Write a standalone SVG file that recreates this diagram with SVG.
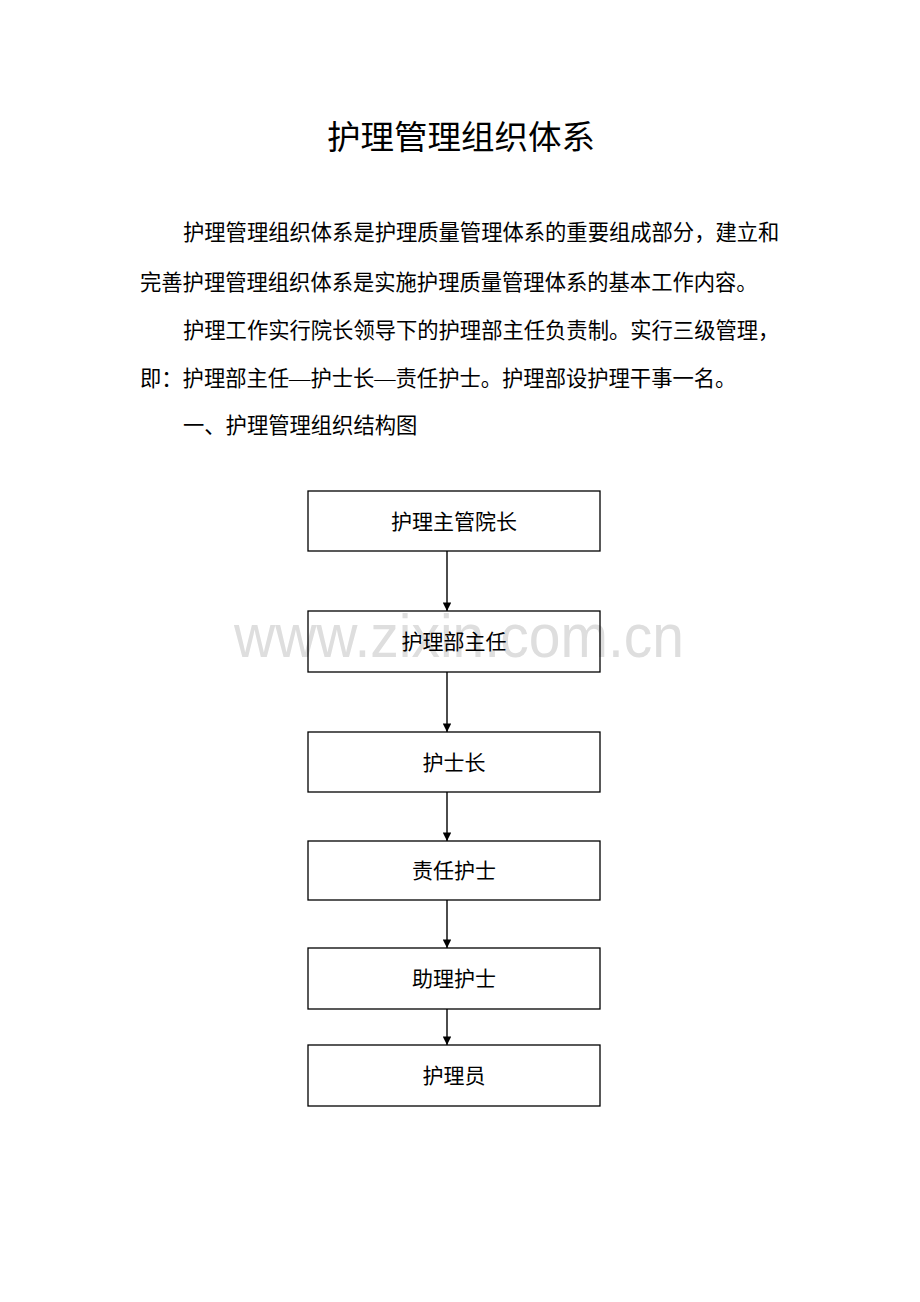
<svg xmlns="http://www.w3.org/2000/svg" width="920" height="1302" viewBox="0 0 920 1302">
<style>
.t{font-family:"Liberation Serif","Noto Sans CJK SC",serif;fill:#000}
.title{font-size:33.5px}
.p{font-size:21.3px}
.box{fill:none;stroke:#000;stroke-width:1.3}
.lbl{font-family:"Liberation Serif","Noto Sans CJK SC",serif;font-size:21px;fill:#000;text-anchor:middle}
.conn{stroke:#000;stroke-width:1.4;fill:none}
.wm{font-family:"Liberation Sans",Arial,sans-serif;font-size:62px;fill:#dedede}
</style>
<defs>
<marker id="arr" viewBox="0 0 10 10" refX="10" refY="5" markerWidth="9" markerHeight="8.5" orient="auto" markerUnits="userSpaceOnUse">
<path d="M0,0 L10,5 L0,10 Z" fill="#000"/>
</marker>
</defs>
<rect width="920" height="1302" fill="#fff"/>
<text class="wm" x="234" y="657" textLength="450" lengthAdjust="spacingAndGlyphs">www.zixin.com.cn</text>
<text class="t title" x="461" y="149" text-anchor="middle">护理管理组织体系</text>
<g id="body">
<text class="t p" x="183" y="240">护理管理组织体系是护理质量管理体系的重要组成部分，建立和</text>
<text class="t p" x="140" y="290">完善护理管理组织体系是实施护理质量管理体系的基本工作内容。</text>
<text class="t p" x="183" y="338">护理工作实行院长领导下的护理部主任负责制。实行三级管理，</text>
<text class="t p" x="140" y="386">即：护理部主任—护士长—责任护士。护理部设护理干事一名。</text>
<text class="t p" x="183" y="433">一、护理管理组织结构图</text>
</g>
<g id="connectors">
<line class="conn" x1="447" y1="551" x2="447" y2="611" marker-end="url(#arr)"/>
<line class="conn" x1="447" y1="672" x2="447" y2="732" marker-end="url(#arr)"/>
<line class="conn" x1="447" y1="792" x2="447" y2="841" marker-end="url(#arr)"/>
<line class="conn" x1="447" y1="900" x2="447" y2="948" marker-end="url(#arr)"/>
<line class="conn" x1="447" y1="1009" x2="447" y2="1045" marker-end="url(#arr)"/>
</g>
<g id="n1"><rect class="box" x="308" y="491" width="292" height="60"/><text class="lbl" x="454" y="529">护理主管院长</text></g>
<g id="n2"><rect class="box" x="308" y="611" width="292" height="61"/><text class="lbl" x="454" y="649">护理部主任</text></g>
<g id="n3"><rect class="box" x="308" y="732" width="292" height="60"/><text class="lbl" x="454" y="770">护士长</text></g>
<g id="n4"><rect class="box" x="308" y="841" width="292" height="59"/><text class="lbl" x="454" y="878">责任护士</text></g>
<g id="n5"><rect class="box" x="308" y="948" width="292" height="61"/><text class="lbl" x="454" y="986">助理护士</text></g>
<g id="n6"><rect class="box" x="308" y="1045" width="292" height="61"/><text class="lbl" x="454" y="1083">护理员</text></g>
</svg>
